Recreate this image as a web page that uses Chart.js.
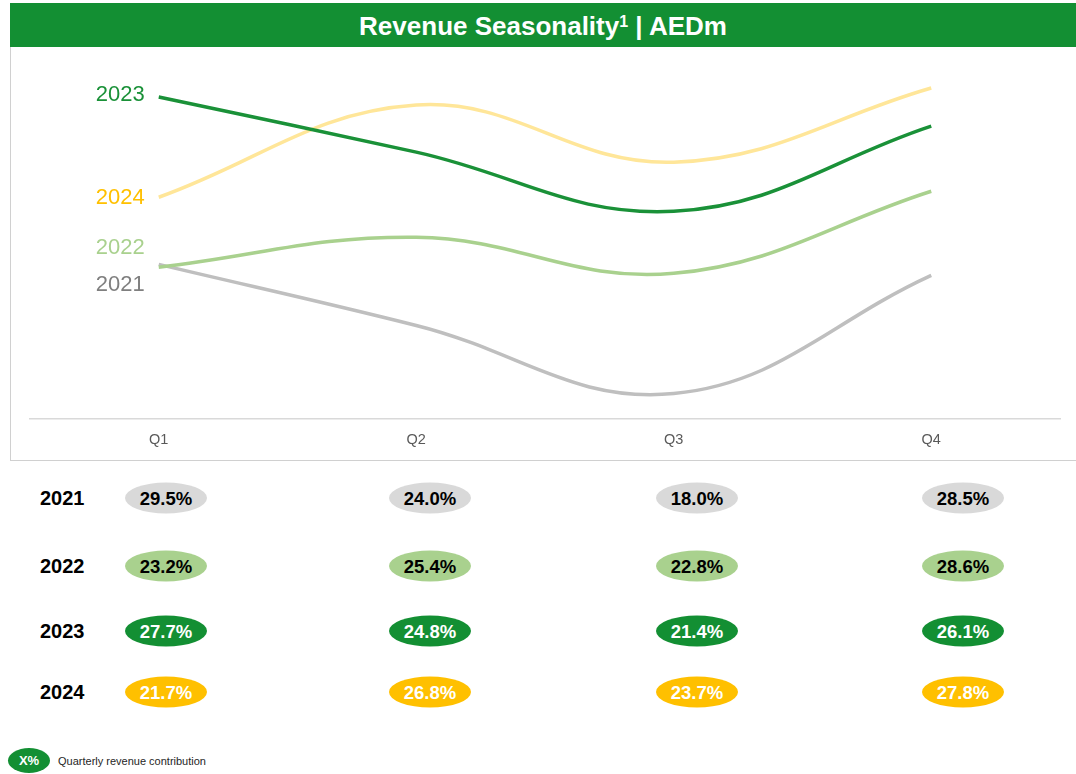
<!DOCTYPE html>
<html>
<head>
<meta charset="utf-8">
<script src="https://cdn.jsdelivr.net/npm/chart.js"></script>
<style>
  body { margin: 0; width: 1076px; height: 774px; background: #fff; font-family: "Liberation Sans", Arial, sans-serif; position: relative; overflow: hidden; }
  #titulo { position: absolute; left: 10px; top: 3px; width: 1066px; height: 44px; background: #138f33; color: #fff; font-weight: bold; font-size: 26px; line-height: 46px; text-align: center; }
  #titulo sup { font-size: 16px; vertical-align: 8px; line-height: 0; }
  #marco { position: absolute; left: 10px; top: 47px; width: 1066px; height: 414px; border-left: 1px solid #d0d0d0; border-bottom: 1px solid #d0d0d0; box-sizing: border-box; }
  #grafico { position: absolute; left: 10px; top: 47px; }
  .anio { position: absolute; left: 40px; font-weight: bold; font-size: 20px; color: #000; transform: translateY(-50%); }
  .pastilla { position: absolute; width: 82px; height: 31px; border-radius: 50%; font-weight: bold; font-size: 18.5px; line-height: 31px; text-align: center; transform: translate(-50%, -50%); }
  #leyenda { position: absolute; left: 8px; top: 748px; width: 42px; height: 25px; border-radius: 50%; background: #138f33; color: #fff; font-weight: bold; font-size: 13px; line-height: 25px; text-align: center; }
  #leyendaTexto { position: absolute; left: 58px; top: 755px; font-size: 11px; color: #262626; }
</style>
</head>
<body>
<div id="titulo">Revenue Seasonality<sup>1</sup> | AEDm</div>
<div id="marco"></div>
<canvas id="grafico" width="1066" height="414"></canvas>
<div id="tabla"></div>
<div id="leyenda">X%</div>
<div id="leyendaTexto">Quarterly revenue contribution</div>

<script>
// trimestres y años
const trimestres = ["Q1", "Q2", "Q3", "Q4"];
const anios = ["2021", "2022", "2023", "2024"];

// ingresos trimestrales (AEDm, estimados del gráfico)
const ingresos2021 = [332, 271, 203, 321];
const ingresos2022 = [329, 359, 323, 405];
const ingresos2023 = [499, 444, 385, 470];
const ingresos2024 = [399, 491, 434, 508];

// contribución trimestral (%)
const aporte2021 = [29.5, 24.0, 18.0, 28.5];
const aporte2022 = [23.2, 25.4, 22.8, 28.6];
const aporte2023 = [27.7, 24.8, 21.4, 26.1];
const aporte2024 = [21.7, 26.8, 23.7, 27.8];

const colores = {
  "2021": { linea: "#bfbfbf", texto: "#7f7f7f", fondo: "#d9d9d9", letra: "#000" },
  "2022": { linea: "#a9d18e", texto: "#a9d18e", fondo: "#a9d18e", letra: "#000" },
  "2023": { linea: "#1a9138", texto: "#1a9138", fondo: "#138f33", letra: "#fff" },
  "2024": { linea: "#ffe699", texto: "#ffc000", fondo: "#ffc000", letra: "#fff" }
};

// desplazamiento vertical de la etiqueta del año respecto al primer punto
const desplazamiento = { "2021": 21, "2022": -19, "2023": -2, "2024": 1 };

const ingresos = { "2021": ingresos2021, "2022": ingresos2022, "2023": ingresos2023, "2024": ingresos2024 };
const aportes = { "2021": aporte2021, "2022": aporte2022, "2023": aporte2023, "2024": aporte2024 };

// orden de dibujo: el primero queda arriba
const ordenSeries = ["2023", "2022", "2024", "2021"];

const etiquetasAnio = {
  id: "etiquetasAnio",
  afterDatasetsDraw(chart) {
    const ctx = chart.ctx;
    ctx.save();
    ctx.font = '22px "Liberation Sans", Arial, sans-serif';
    ctx.textAlign = "right";
    ctx.textBaseline = "middle";
    chart.data.datasets.forEach((ds, i) => {
      const p = chart.getDatasetMeta(i).data[0];
      ctx.fillStyle = colores[ds.label].texto;
      ctx.fillText(ds.label, p.x - 14, p.y + desplazamiento[ds.label]);
    });
    ctx.restore();
  }
};

new Chart(document.getElementById("grafico").getContext("2d"), {
  type: "line",
  data: {
    labels: trimestres,
    datasets: ordenSeries.map(a => ({
      label: a,
      data: ingresos[a],
      borderColor: colores[a].linea,
      borderWidth: 3.5,
      pointRadius: 0,
      tension: 0.4,
      fill: false
    }))
  },
  options: {
    responsive: false,
    animation: false,
    layout: { padding: { left: 20, right: 16, top: 13, bottom: 7 } },
    plugins: { legend: { display: false }, tooltip: { enabled: false } },
    scales: {
      x: {
        offset: true,
        grid: { display: false },
        border: { display: true, color: "#d9d9d9", width: 1.5 },
        ticks: { color: "#595959", padding: 5, font: { size: 14.5, family: '"Liberation Sans", Arial, sans-serif' } }
      },
      y: { display: false, min: 178, max: 536 }
    }
  },
  plugins: [etiquetasAnio]
});

// tabla de contribuciones
const tabla = document.getElementById("tabla");
const filasY = [498, 566, 631, 692];
const columnasX = [166, 430, 697, 963];
anios.forEach((a, f) => {
  const etiqueta = document.createElement("div");
  etiqueta.className = "anio";
  etiqueta.style.top = filasY[f] + "px";
  etiqueta.textContent = a;
  tabla.appendChild(etiqueta);
  aportes[a].forEach((v, c) => {
    const p = document.createElement("div");
    p.className = "pastilla";
    p.style.left = columnasX[c] + "px";
    p.style.top = filasY[f] + "px";
    p.style.background = colores[a].fondo;
    p.style.color = colores[a].letra;
    p.textContent = v.toFixed(1) + "%";
    tabla.appendChild(p);
  });
});
</script>
</body>
</html>
